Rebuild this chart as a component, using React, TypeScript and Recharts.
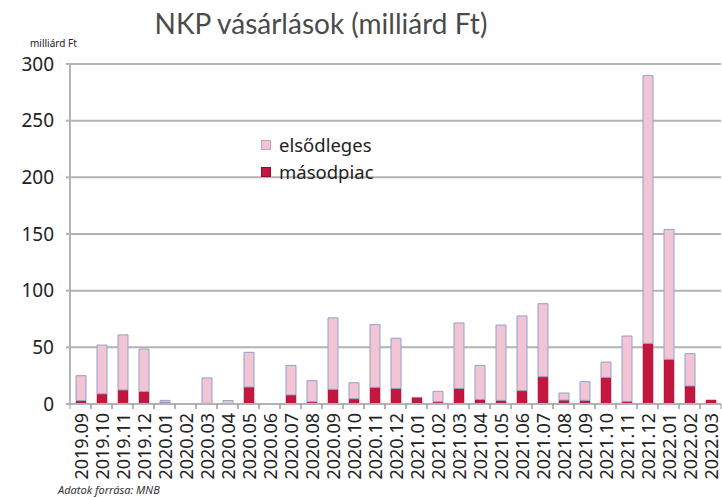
import { BarChart, Bar, XAxis, YAxis, CartesianGrid } from "recharts";

const months = [
  "2019.09", "2019.10", "2019.11", "2019.12", "2020.01", "2020.02", "2020.03", "2020.04",
  "2020.05", "2020.06", "2020.07", "2020.08", "2020.09", "2020.10", "2020.11", "2020.12",
  "2021.01", "2021.02", "2021.03", "2021.04", "2021.05", "2021.06", "2021.07", "2021.08",
  "2021.09", "2021.10", "2021.11", "2021.12", "2022.01", "2022.02", "2022.03",
];

// másodpiac (secondary market)
const secondary = [
  3, 9, 12.4, 11, 1.5, 0, 0.5, 0,
  15, 0, 8, 2, 13, 4.7, 14.7, 13.8,
  5.6, 2, 13.8, 4, 3.2, 11.8, 24.1, 3.5,
  3.2, 23.5, 2.3, 53.5, 39.4, 15.9, 3.5,
];

// elsődleges (primary market)
const primary = [
  22, 43, 48.6, 37.5, 1.7, 0, 22.5, 3,
  30.6, 0, 26, 18.6, 63, 14.1, 55.3, 44.2,
  0, 9.2, 57.7, 30, 66.5, 65.9, 64.4, 6.2,
  16.5, 13.5, 57.7, 236.3, 114.6, 28.5, 0,
];

const yTicks = [0, 50, 100, 150, 200, 250, 300];

const data = months.map((m, i) => ({ name: m, masodpiac: secondary[i], elsodleges: primary[i] }));

const PINK = "#f3c5d4";
const PINK_EDGE = "#8fa2cc";
const RED = "#c3173f";
const FONT = "'Noto Sans', Lato, sans-serif";

const STEP = 651 / months.length;

function MonthTick(props: any) {
  const { x, y, payload } = props;
  return (
    <g>
      <line x1={x - STEP / 2} x2={x - STEP / 2} y1={404} y2={409} stroke="#9a9a9a" />
      <line x1={x + STEP / 2} x2={x + STEP / 2} y1={404} y2={409} stroke="#9a9a9a" />
      <text
        x={x}
        y={413}
        transform={`rotate(-90, ${x}, 413)`}
        textAnchor="end"
        dominantBaseline="central"
        fontSize={18}
        fontFamily={FONT}
        fill="#222"
      >
        {payload.value}
      </text>
    </g>
  );
}

function LegendRow({ color, edge, label }: { color: string; edge: string; label: string }) {
  return (
    <div style={{ display: "flex", alignItems: "center", height: 27 }}>
      <span style={{ width: 8, height: 8, background: color, border: `1px solid ${edge}`, marginRight: 8 }} />
      <span style={{ fontSize: 18.5, fontFamily: FONT, color: "#222" }}>{label}</span>
    </div>
  );
}

export default function App() {
  return (
    <div style={{ position: "fixed", left: 0, top: 0, width: 722, height: 497, background: "#fff" }}>
      <BarChart
        width={722}
        height={497}
        data={data}
        margin={{ top: 64, right: 1, bottom: 0, left: 0 }}
        barCategoryGap={0}
      >
        <CartesianGrid vertical={false} stroke="#b3b3b3" strokeWidth={2} />
        <YAxis
          domain={[0, 300]}
          ticks={yTicks}
          width={70}
          axisLine={{ stroke: "#b3b3b3", strokeWidth: 2 }}
          tickLine={{ stroke: "#b3b3b3", strokeWidth: 2 }}
          tickSize={4}
          tickMargin={12}
          tick={{ fontSize: 19, fontFamily: FONT, fill: "#222" }}
        />
        <XAxis
          dataKey="name"
          height={93}
          interval={0}
          axisLine={{ stroke: "#b3b3b3", strokeWidth: 2 }}
          tickLine={false}
          tick={<MonthTick />}
        />
        <Bar dataKey="masodpiac" stackId="a" fill={RED} stroke="#9a1636" strokeWidth={0.5} barSize={10} isAnimationActive={false} />
        <Bar dataKey="elsodleges" stackId="a" fill={PINK} stroke={PINK_EDGE} strokeWidth={1} barSize={10} isAnimationActive={false} />
      </BarChart>
      <div
        style={{
          position: "absolute",
          left: 0,
          width: 642,
          top: 7,
          textAlign: "center",
          fontSize: 28,
          lineHeight: 1.2,
          fontFamily: "Lato, 'Noto Sans', sans-serif",
          color: "#4a4a4a",
        }}
      >
        NKP vásárlások (milliárd Ft)
      </div>
      <div style={{ position: "absolute", left: 30, top: 37, fontSize: 10, lineHeight: "12px", fontFamily: FONT, color: "#222" }}>
        milliárd Ft
      </div>
      <div style={{ position: "absolute", left: 261, top: 131 }}>
        <LegendRow color={PINK} edge="#b9a3c0" label="elsődleges" />
        <LegendRow color={RED} edge="#8a1030" label="másodpiac" />
      </div>
      <div
        style={{
          position: "absolute",
          left: 58,
          top: 483,
          fontSize: 11,
          lineHeight: "13px",
          fontStyle: "italic",
          fontFamily: FONT,
          color: "#333",
        }}
      >
        Adatok forrása: MNB
      </div>
    </div>
  );
}
